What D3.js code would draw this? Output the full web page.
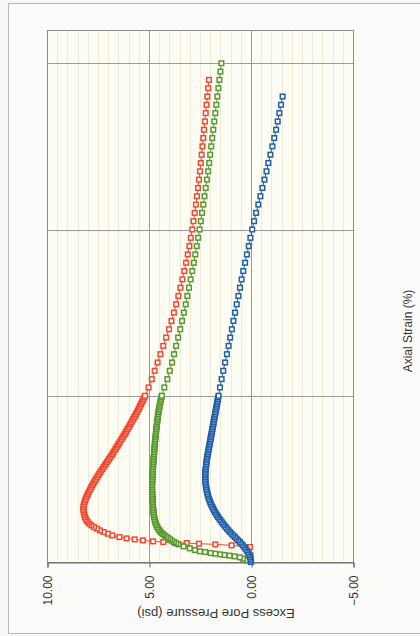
<!DOCTYPE html>
<html>
<head>
<meta charset="utf-8">
<script src="https://cdn.jsdelivr.net/npm/d3@7"></script>
<style>
  html, body { margin: 0; padding: 0; background: #f7f7f5; }
  svg { display: block; }
  text { font-family: "Liberation Sans", Arial, sans-serif; fill: #333; }
</style>
</head>
<body>
<svg id="chart" width="420" height="636"></svg>
<script>
// Axial strain (%) and excess pore pressure (psi) for the three test specimens
const redStrain = [0, 0.2, 0.45, 0.50, 0.53, 0.55, 0.57, 0.58, 0.60, 0.62, 0.65, 0.68, 0.71, 0.75,
  0.80, 0.85, 0.90, 0.95, 1.00, 1.05, 1.10, 1.15, 1.20, 1.25, 1.30, 1.35, 1.40, 1.45, 1.50, 1.55,
  1.60, 1.65, 1.70, 1.75, 1.80, 1.85, 1.90, 1.95, 2.00, 2.05, 2.10, 2.15, 2.20, 2.25, 2.30, 2.35,
  2.40, 2.45, 2.50, 2.55, 2.60, 2.65, 2.70, 2.75, 2.80, 2.85, 2.90, 2.95, 3.00, 3.05, 3.10, 3.15,
  3.20, 3.25, 3.30, 3.35, 3.40, 3.45, 3.50, 3.55, 3.60, 3.65, 3.70, 3.75, 3.80, 3.85, 3.90, 3.95,
  4.00, 4.05, 4.10, 4.15, 4.20, 4.25, 4.30, 4.35, 4.40, 4.45, 4.50, 4.55, 4.60, 4.65, 4.70, 4.75,
  4.80, 4.85, 4.90, 4.95, 5.00,
  5.25, 5.50, 5.75, 6.00, 6.25, 6.50, 6.75, 7.00, 7.25, 7.50, 7.75, 8.00, 8.25, 8.50, 8.75, 9.00,
  9.25, 9.50, 9.75, 10.00, 10.25, 10.50, 10.75, 11.00, 11.25, 11.50, 11.75, 12.00, 12.25, 12.50,
  12.75, 13.00, 13.25, 13.50, 13.75, 14.00, 14.25, 14.50];
const redPore = [0, 0.02, 0.05, 0.95, 1.75, 2.55, 3.15, 3.75, 4.30, 4.80, 5.30, 5.70, 6.10, 6.45,
  6.80, 7.02, 7.22, 7.40, 7.55, 7.70, 7.82, 7.92, 8.00, 8.06, 8.10, 8.14, 8.16, 8.18, 8.20, 8.21,
  8.21, 8.21, 8.20, 8.18, 8.16, 8.13, 8.10, 8.07, 8.03, 7.99, 7.95, 7.91, 7.87, 7.83, 7.78, 7.74,
  7.69, 7.64, 7.59, 7.54, 7.49, 7.44, 7.39, 7.34, 7.28, 7.23, 7.17, 7.12, 7.06, 7.01, 6.95, 6.90,
  6.84, 6.79, 6.74, 6.69, 6.64, 6.59, 6.54, 6.49, 6.44, 6.39, 6.34, 6.29, 6.24, 6.19, 6.14, 6.10,
  6.05, 6.00, 5.95, 5.91, 5.86, 5.82, 5.77, 5.73, 5.68, 5.64, 5.59, 5.55, 5.51, 5.47, 5.43, 5.39,
  5.35, 5.31, 5.27, 5.23, 5.19,
  5.02, 4.86, 4.72, 4.58, 4.44, 4.30, 4.16, 4.02, 3.90, 3.78, 3.67, 3.56, 3.46, 3.36, 3.27, 3.18,
  3.10, 3.02, 2.95, 2.88, 2.82, 2.76, 2.70, 2.65, 2.60, 2.55, 2.50, 2.46, 2.42, 2.38,
  2.34, 2.30, 2.26, 2.22, 2.18, 2.14, 2.10, 2.06];

const greenStrain = [0, 0.05, 0.10, 0.14, 0.17, 0.19, 0.21, 0.23, 0.25, 0.27, 0.30, 0.32, 0.36, 0.41,
  0.47, 0.53, 0.56, 0.60, 0.64, 0.68, 0.72, 0.76, 0.80, 0.84, 0.88, 0.92, 0.96,
  1.00, 1.05, 1.10, 1.15, 1.20, 1.25, 1.30, 1.35, 1.40, 1.45, 1.50, 1.55, 1.60, 1.65, 1.70, 1.75,
  1.80, 1.85, 1.90, 1.95, 2.00, 2.05, 2.10, 2.15, 2.20, 2.25, 2.30, 2.35, 2.40, 2.45, 2.50, 2.55,
  2.60, 2.65, 2.70, 2.75, 2.80, 2.85, 2.90, 2.95, 3.00, 3.05, 3.10, 3.15, 3.20, 3.25, 3.30, 3.35,
  3.40, 3.45, 3.50, 3.55, 3.60, 3.65, 3.70, 3.75, 3.80, 3.85, 3.90, 3.95, 4.00, 4.05, 4.10, 4.15,
  4.20, 4.25, 4.30, 4.35, 4.40, 4.45, 4.50, 4.55, 4.60, 4.65, 4.70, 4.75, 4.80, 4.85, 4.90, 4.95,
  5.00,
  5.25, 5.50, 5.75, 6.00, 6.25, 6.50, 6.75, 7.00, 7.25, 7.50, 7.75, 8.00, 8.25, 8.50,
  8.75, 9.00, 9.25, 9.50, 9.75, 10.00, 10.25, 10.50, 10.75, 11.00, 11.25, 11.50, 11.75, 12.00,
  12.25, 12.50, 12.75, 13.00, 13.25, 13.50, 13.75, 14.00, 14.25, 14.50, 14.75, 15.00];
const greenPore = [0, 0.20, 0.40, 0.55, 0.80, 1.05, 1.30, 1.52, 1.75, 1.98, 2.25, 2.50, 2.75, 3.00,
  3.30, 3.55, 3.66, 3.78, 3.88, 3.97, 4.06, 4.15, 4.24, 4.32, 4.39, 4.45, 4.50,
  4.55, 4.59, 4.63, 4.66, 4.69, 4.71, 4.73, 4.75, 4.76, 4.77, 4.78, 4.79, 4.80, 4.80, 4.81, 4.81,
  4.82, 4.82, 4.83, 4.83, 4.84, 4.84, 4.84, 4.85, 4.85, 4.85, 4.85, 4.85, 4.84, 4.84, 4.84, 4.83,
  4.83, 4.82, 4.82, 4.81, 4.81, 4.80, 4.80, 4.79, 4.79, 4.78, 4.78, 4.77, 4.76, 4.75, 4.75, 4.74,
  4.74, 4.73, 4.72, 4.71, 4.71, 4.70, 4.69, 4.68, 4.67, 4.66, 4.66, 4.65, 4.64, 4.63, 4.62, 4.61,
  4.60, 4.59, 4.58, 4.57, 4.56, 4.55, 4.54, 4.52, 4.51, 4.49, 4.48, 4.46, 4.45, 4.43, 4.41, 4.39,
  4.37,
  4.25, 4.10, 3.98, 3.87, 3.77, 3.67, 3.57, 3.47, 3.38, 3.29, 3.20, 3.12, 3.04, 2.96,
  2.88, 2.80, 2.73, 2.66, 2.59, 2.52, 2.46, 2.40, 2.34, 2.28, 2.22, 2.16, 2.10, 2.05,
  2.00, 1.95, 1.90, 1.85, 1.80, 1.75, 1.70, 1.65, 1.60, 1.55, 1.50, 1.45];

const blueStrain = [0, 0.05, 0.10, 0.15, 0.20, 0.25, 0.30, 0.35, 0.40, 0.45, 0.50, 0.55, 0.60, 0.65,
  0.70, 0.75, 0.80, 0.85, 0.90, 0.95, 1.00, 1.05, 1.10, 1.15, 1.20, 1.25, 1.30, 1.35, 1.40, 1.45,
  1.50, 1.55, 1.60, 1.65, 1.70, 1.75, 1.80, 1.85, 1.90, 1.95, 2.00, 2.05, 2.10, 2.15, 2.20, 2.25,
  2.30, 2.35, 2.40, 2.45, 2.50, 2.55, 2.60, 2.65, 2.70, 2.75, 2.80, 2.85, 2.90, 2.95, 3.00, 3.05,
  3.10, 3.15, 3.20, 3.25, 3.30, 3.35, 3.40, 3.45, 3.50, 3.55, 3.60, 3.65, 3.70, 3.75, 3.80, 3.85,
  3.90, 3.95, 4.00, 4.05, 4.10, 4.15, 4.20, 4.25, 4.30, 4.35, 4.40, 4.45, 4.50, 4.55, 4.60, 4.65,
  4.70, 4.75, 4.80, 4.85, 4.90, 4.95, 5.00,
  5.25, 5.50, 5.75, 6.00, 6.25, 6.50, 6.75, 7.00, 7.25, 7.50, 7.75, 8.00, 8.25, 8.50, 8.75, 9.00,
  9.25, 9.50, 9.75, 10.00, 10.25, 10.50, 10.75, 11.00, 11.25, 11.50, 11.75, 12.00, 12.25, 12.50,
  12.75, 13.00, 13.25, 13.50, 13.75, 14.00];
const bluePore = [0.00, 0.01, 0.03, 0.05, 0.08, 0.12, 0.16, 0.21, 0.27, 0.33, 0.40, 0.47, 0.55, 0.63,
  0.71, 0.79, 0.87, 0.95, 1.03, 1.10, 1.17, 1.24, 1.30, 1.37, 1.43, 1.49, 1.55, 1.61, 1.66, 1.71,
  1.76, 1.81, 1.85, 1.89, 1.93, 1.97, 2.00, 2.03, 2.06, 2.09, 2.11, 2.13, 2.15, 2.17, 2.18, 2.20,
  2.21, 2.22, 2.23, 2.24, 2.24, 2.24, 2.24, 2.24, 2.23, 2.23, 2.22, 2.21, 2.20, 2.19, 2.18, 2.17,
  2.16, 2.15, 2.13, 2.12, 2.10, 2.09, 2.07, 2.06, 2.04, 2.03, 2.01, 2.00, 1.98, 1.97, 1.95, 1.94,
  1.92, 1.91, 1.89, 1.88, 1.86, 1.85, 1.83, 1.82, 1.80, 1.79, 1.77, 1.76, 1.74, 1.73, 1.71, 1.70,
  1.68, 1.67, 1.65, 1.64, 1.62, 1.61, 1.59,
  1.52, 1.44, 1.36, 1.27, 1.18, 1.10, 1.02, 0.94, 0.86, 0.78, 0.70, 0.62, 0.54, 0.46, 0.38,
  0.29, 0.20, 0.11, 0.03, -0.06, -0.15, -0.25, -0.36, -0.46, -0.56, -0.66, -0.76, -0.85, -0.95,
  -1.05, -1.14, -1.23, -1.31, -1.39, -1.47, -1.55];

// Axis ticks and labels
const poreTicks = [10, 5, 0, -5];
const strainGrid = [5, 10, 15];
const strainDomain = [0, 16];
const poreTitle = "Excess Pore Pressure (psi)";
const strainTitle = "Axial Strain (%)";

const series = [
  { strain: redStrain, pore: redPore, color: "#ee4a31" },
  { strain: greenStrain, pore: greenPore, color: "#58992d" },
  { strain: blueStrain, pore: bluePore, color: "#215ea7" }
];

const svg = d3.select("#chart");
const plot = { left: 47, right: 353, top: 30, bottom: 562 };

// The chart is laid on its side: pressure runs across, strain runs upward.
const x = d3.scaleLinear().domain([10, -5]).range([plot.left, plot.right]);
const y = d3.scaleLinear().domain(strainDomain).range([plot.bottom, plot.top]);

// Chart frame
svg.append("rect")
  .attr("x", 8.5).attr("y", 3.5).attr("width", 420).attr("height", 630)
  .attr("fill", "#fbfbfa").attr("stroke", "#b9b9b9").attr("stroke-width", 1);

// Plot background
svg.append("rect")
  .attr("x", plot.left).attr("y", plot.top)
  .attr("width", plot.right - plot.left).attr("height", plot.bottom - plot.top)
  .attr("fill", "#fdfdf4");

// Minor pressure gridlines every 0.5 psi
svg.append("g")
  .selectAll("line").data(x.ticks(30).filter(v => v % 5 !== 0)).join("line")
  .attr("x1", d => Math.round(x(d)) + 0.5).attr("x2", d => Math.round(x(d)) + 0.5)
  .attr("y1", plot.top).attr("y2", plot.bottom)
  .attr("stroke", "#eeecd9").attr("stroke-width", 1);

// Major gridlines
svg.append("g")
  .selectAll("line").data(poreTicks).join("line")
  .attr("x1", d => Math.round(x(d)) + 0.5).attr("x2", d => Math.round(x(d)) + 0.5)
  .attr("y1", plot.top).attr("y2", plot.bottom)
  .attr("stroke", "#9a9a9a").attr("stroke-width", 1);
svg.append("g")
  .selectAll("line").data(strainGrid).join("line")
  .attr("x1", plot.left).attr("x2", plot.right)
  .attr("y1", d => Math.round(y(d)) + 0.5).attr("y2", d => Math.round(y(d)) + 0.5)
  .attr("stroke", "#9a9a9a").attr("stroke-width", 1);

// Plot border
svg.append("rect")
  .attr("x", plot.left + 0.5).attr("y", plot.top + 0.5)
  .attr("width", plot.right - plot.left).attr("height", plot.bottom - plot.top)
  .attr("fill", "none").attr("stroke", "#8c8c8c").attr("stroke-width", 1);

// Pressure axis with rotated labels
const axis = svg.append("g")
  .attr("transform", `translate(0.5,${plot.bottom + 0.5})`)
  .call(d3.axisBottom(x).tickValues(poreTicks).tickSize(5).tickFormat(d3.format(".2f")));
axis.select(".domain").attr("stroke", "#666");
axis.selectAll(".tick line").attr("stroke", "#666");
axis.selectAll(".tick text")
  .attr("x", -13).attr("y", 0).attr("dy", "0.35em")
  .attr("text-anchor", "end")
  .attr("transform", "rotate(-90)")
  .style("font-family", '"Liberation Sans", Arial, sans-serif')
  .style("font-size", "12px").attr("fill", "#333");

// Axis titles
svg.append("text")
  .attr("transform", "translate(216,614) rotate(180)")
  .attr("text-anchor", "middle").attr("dy", "0.35em")
  .style("font-size", "13px")
  .text(poreTitle);
svg.append("text")
  .attr("transform", "translate(408,331) rotate(-90)")
  .attr("text-anchor", "middle").attr("dy", "0.35em")
  .style("font-size", "12px")
  .text(strainTitle);

// Series: thin connecting line plus hollow square markers
const line = d3.line().x(d => x(d.p)).y(d => y(d.s));
const markerSize = 4.6;
series.forEach(sr => {
  const pts = sr.strain.map((s, i) => ({ s, p: sr.pore[i] }));
  const g = svg.append("g");
  g.append("path").datum(pts)
    .attr("d", line).attr("fill", "none")
    .attr("stroke", sr.color).attr("stroke-width", 1);
  g.selectAll("rect").data(pts).join("rect")
    .attr("x", d => x(d.p) - markerSize / 2)
    .attr("y", d => y(d.s) - markerSize / 2)
    .attr("width", markerSize).attr("height", markerSize)
    .attr("fill", "#ffffff")
    .attr("stroke", sr.color).attr("stroke-width", 1.5);
});
</script>
</body>
</html>
